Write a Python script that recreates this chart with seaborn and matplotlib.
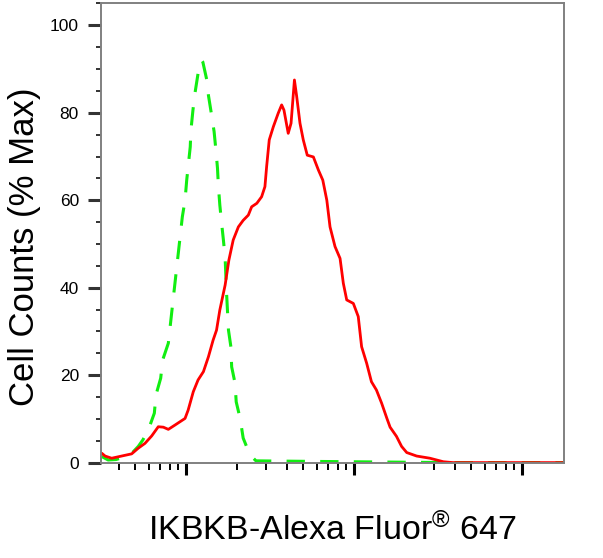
import pandas as pd
import matplotlib
matplotlib.use('Agg')
import matplotlib.pyplot as plt
import matplotlib.ticker as mticker
from matplotlib import font_manager
import seaborn as sns

# Histogram overlay (x = fluorescence, y = % of max)
red_x = [3.15, 3.30, 3.61, 4.14, 4.75, 5.20, 5.70, 6.25, 6.84, 7.33, 7.85, 8.61,
         9.87, 10.3, 11.05, 11.8, 12.7, 13.6, 14.5, 15.2, 15.9, 17.1, 18.0, 19.1,
         20.5, 21.9, 23.5, 24.6, 26.4, 28.2, 29.5, 30.2, 31.3, 33.1, 35.4, 37.1,
         38.3, 40.6, 42.2, 44.2, 45.6, 47.7, 49.9, 52.7, 57.3, 61.4, 65.2, 68.9,
         72.0, 77.1, 82.6, 86.4, 90.5, 99.1, 106, 111, 119, 127, 136, 146, 157,
         164, 179, 192, 206, 236, 283, 340, 388, 600, 1000, 1766]
red_y = [2.15, 1.5, 1.0, 1.5, 2.0, 3.3, 4.4, 6.1, 8.2, 8.1, 7.6, 8.6,
         10.1, 12.0, 16.2, 18.9, 20.8, 24.2, 28.0, 30.3, 34.9, 40.6, 46.3, 50.9,
         53.9, 55.4, 56.6, 58.5, 59.3, 60.8, 63.1, 67.7, 73.8, 76.8, 79.9, 81.8,
         80.6, 75.3, 77.6, 87.5, 83.7, 77.6, 73.8, 70.3, 69.9, 66.9, 64.6, 60.0,
         53.9, 49.4, 46.7, 41.0, 37.2, 36.4, 33.4, 26.5, 22.7, 18.5, 16.6, 13.6, 10.1,
         8.1, 6.0, 3.7, 2.3, 1.5, 1.0, 0.2, 0.0, 0.0, 0.0, 0.0]

green_x = [3.15, 3.44, 3.83, 4.43, 4.75, 5.20, 5.54, 5.97, 6.48, 6.63, 7.07, 7.27,
           7.85, 8.38, 9.00, 9.51, 9.87, 10.1, 10.3, 10.6, 10.7, 11.0, 11.3, 11.8,
           12.4, 12.6, 13.3, 13.6, 14.2, 14.7, 15.1, 15.4, 15.6, 15.9, 16.3, 16.7,
           17.1, 17.4, 17.9, 18.5, 18.7, 19.6, 19.9, 21.0, 21.9, 24.0, 26.1, 47.7,
           95, 372, 1766]
green_y = [1.4, 0.6, 0.7, 1.4, 2.1, 3.7, 5.2, 7.5, 11.3, 15.5, 19.3, 23.5,
           27.3, 37.2, 47.9, 56.2, 60.0, 64.6, 67.7, 72.2, 76.0, 80.6, 84.4, 89.0,
           92.0, 91.6, 87.5, 84.0, 79.5, 75.7, 71.1, 67.3, 63.1, 58.9, 54.7, 50.9,
           46.8, 39.5, 30.3, 26.5, 21.9, 18.1, 13.9, 10.1, 5.6, 1.8, 0.4, 0.3,
           0.2, 0.0, 0.0]

y_ticks = [0, 20, 40, 60, 80, 100]

red = pd.DataFrame({'intensity': red_x, 'pct_max': red_y})
green = pd.DataFrame({'intensity': green_x, 'pct_max': green_y})

sns.set_theme(style='white')
names = {f.name for f in font_manager.fontManager.ttflist}
tick_font = 'Liberation Sans Narrow' if 'Liberation Sans Narrow' in names else 'Liberation Sans'
plt.rcParams['font.family'] = ['Liberation Sans', 'DejaVu Sans']
plt.rcParams['mathtext.fontset'] = 'custom'
plt.rcParams['mathtext.rm'] = 'Liberation Sans'
plt.rcParams['mathtext.default'] = 'regular'

fig = plt.figure(figsize=(6.03, 5.58), dpi=100)
ax = fig.add_axes([0.1675, 0.1694, 0.767, 0.8252])

sns.lineplot(data=green, x='intensity', y='pct_max', ax=ax, color='#11ee11',
             linewidth=2.2, estimator=None, sort=False)
ax.lines[-1].set_linestyle((0, (6, 5)))
sns.lineplot(data=red, x='intensity', y='pct_max', ax=ax, color='#ff0000',
             linewidth=2.0, estimator=None, sort=False)

ax.set_xscale('log')
ax.set_xlim(3.12, 1766)
ax.set_ylim(-0.2, 105.1)

ax.xaxis.set_major_locator(mticker.LogLocator(base=10))
ax.xaxis.set_minor_locator(mticker.LogLocator(base=10, subs=range(2, 10)))
ax.xaxis.set_major_formatter(mticker.NullFormatter())
ax.xaxis.set_minor_formatter(mticker.NullFormatter())
ax.set_yticks(y_ticks)
ax.yaxis.set_minor_locator(mticker.MultipleLocator(5))

ax.tick_params(axis='x', which='major', bottom=True, length=8.6, width=2.2, color='black', direction='out')
ax.tick_params(axis='x', which='minor', bottom=True, length=5, width=1.4, color='black', direction='out')
ax.tick_params(axis='y', which='major', left=True, length=9.4, width=2.2, color='#333333',
               direction='out', pad=6.5)
ax.tick_params(axis='y', which='minor', left=True, length=3.6, width=1.4, color='#333333', direction='out')
for lab in ax.get_yticklabels():
    lab.set_fontfamily(tick_font)
    lab.set_fontsize(12.5)
    lab.set_color('black')

for sp in ax.spines.values():
    sp.set_color('#808080')
    sp.set_linewidth(1.4)
    sp.set_visible(True)

ax.set_ylabel('Cell Counts (% Max)', fontsize=25, color='black', ha='center', va='center')
ax.yaxis.set_label_coords(-0.165, 0.47)
ax.set_xlabel(r'IKBKB-Alexa Fluor$^{\circledR}$ 647', fontsize=24.5, color='black', va='baseline')
ax.xaxis.set_label_coords(0.5, -0.166)
ax.grid(False)

fig.savefig('out.png', dpi=100)
